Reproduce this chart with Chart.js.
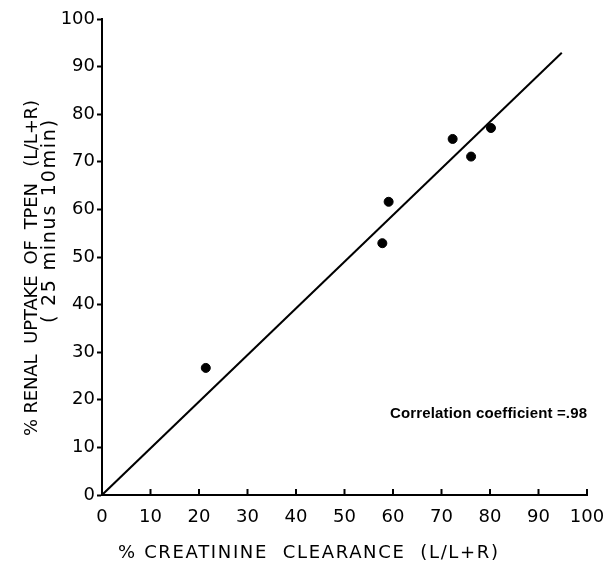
<!DOCTYPE html>
<html>
<head>
<meta charset="utf-8">
<script src="https://cdn.jsdelivr.net/npm/chart.js@4"></script>
<style>
  html, body { margin: 0; padding: 0; background: #fff; }
  canvas { display: block; }
</style>
</head>
<body>
<canvas id="chart" width="603" height="567"></canvas>
<script>
// data
const clearance = [21.4, 57.8, 59.1, 72.3, 76.1, 80.2];
const uptake = [26.7, 52.9, 61.6, 74.8, 71.1, 77.1];
// regression line ends
const fitX = [0, 94.8];
const fitY = [0, 92.9];
const axisMin = 0;
const axisMax = 100;
const tickStep = 10;

const xTitle = '% CREATININE  CLEARANCE  (L/L+R)';
const yTitle = ['% RENAL  UPTAKE  OF  TPEN   (L/L+R)', '( 25 minus 10min)'];
const note = 'Correlation coefficient =.98';

const FONT = "'DejaVu Sans', sans-serif";

// text squeezed / stretched to a given width
function fitText(ctx, text, x, y, width) {
    ctx.letterSpacing = '0px';
    const w = ctx.measureText(text).width;
    const n = Math.max(text.length - 1, 1);
    ctx.letterSpacing = ((width - w) / n).toFixed(2) + 'px';
    ctx.fillText(text, x, y);
    ctx.letterSpacing = '0px';
}

const extras = {
    id: 'extras',
    afterDraw(chart) {
        const ctx = chart.ctx;
        const xs = chart.scales.x;
        const ys = chart.scales.y;
        const area = chart.chartArea;
        ctx.save();
        ctx.strokeStyle = '#000';
        ctx.fillStyle = '#000';
        ctx.lineWidth = 2;

        // x ticks point inward
        xs.ticks.forEach(t => {
            const px = xs.getPixelForValue(t.value);
            ctx.beginPath();
            ctx.moveTo(px, area.bottom);
            ctx.lineTo(px, area.bottom - 6);
            ctx.stroke();
        });

        // axis titles
        ctx.textBaseline = 'middle';
        ctx.textAlign = 'left';
        ctx.font = '18px ' + FONT;
        fitText(ctx, xTitle, 118, 553, 380);

        ctx.save();
        ctx.translate(32, 436);
        ctx.rotate(-Math.PI / 2);
        fitText(ctx, yTitle[0], 0, 0, 336);
        ctx.restore();
        ctx.save();
        ctx.font = '19px ' + FONT;
        ctx.translate(50, 323);
        ctx.rotate(-Math.PI / 2);
        fitText(ctx, yTitle[1], 0, 0, 203);
        ctx.restore();

        // correlation note
        ctx.font = "bold 15px 'Liberation Sans', sans-serif";
        const nx = xs.getPixelForValue(100);
        fitText(ctx, note, nx - 197, ys.getPixelForValue(17), 197);
        ctx.restore();
    }
};

new Chart(document.getElementById('chart'), {
    type: 'scatter',
    data: {
        datasets: [
            {
                data: clearance.map((v, i) => ({ x: v, y: uptake[i] })),
                backgroundColor: '#000',
                borderColor: '#000',
                pointRadius: 4.5,
                showLine: false
            },
            {
                data: fitX.map((v, i) => ({ x: v, y: fitY[i] })),
                borderColor: '#000',
                borderWidth: 2,
                pointRadius: 0,
                showLine: true,
                fill: false
            }
        ]
    },
    options: {
        responsive: false,
        animation: false,
        layout: { padding: { top: 19, right: 16, left: 0, bottom: 0 } },
        plugins: {
            legend: { display: false },
            tooltip: { enabled: false }
        },
        scales: {
            x: {
                type: 'linear',
                min: axisMin,
                max: axisMax,
                afterFit: s => {
                    s.height = 72;
                    s.paddingRight = 0;
                    s.paddingLeft = 0;
                },
                border: { display: true, color: '#000', width: 2 },
                grid: { drawOnChartArea: false, drawTicks: false },
                ticks: {
                    stepSize: tickStep,
                    color: '#000',
                    padding: 12,
                    maxRotation: 0,
                    font: { family: FONT, size: 18 }
                }
            },
            y: {
                type: 'linear',
                min: axisMin,
                max: axisMax,
                afterFit: s => { s.width = 102; },
                border: { display: true, color: '#000', width: 2 },
                grid: {
                    drawOnChartArea: false,
                    drawTicks: true,
                    tickLength: 5,
                    tickWidth: 2,
                    tickColor: '#000'
                },
                ticks: {
                    stepSize: tickStep,
                    color: '#000',
                    padding: 2,
                    font: { family: FONT, size: 18 }
                }
            }
        }
    },
    plugins: [extras]
});
</script>
</body>
</html>
